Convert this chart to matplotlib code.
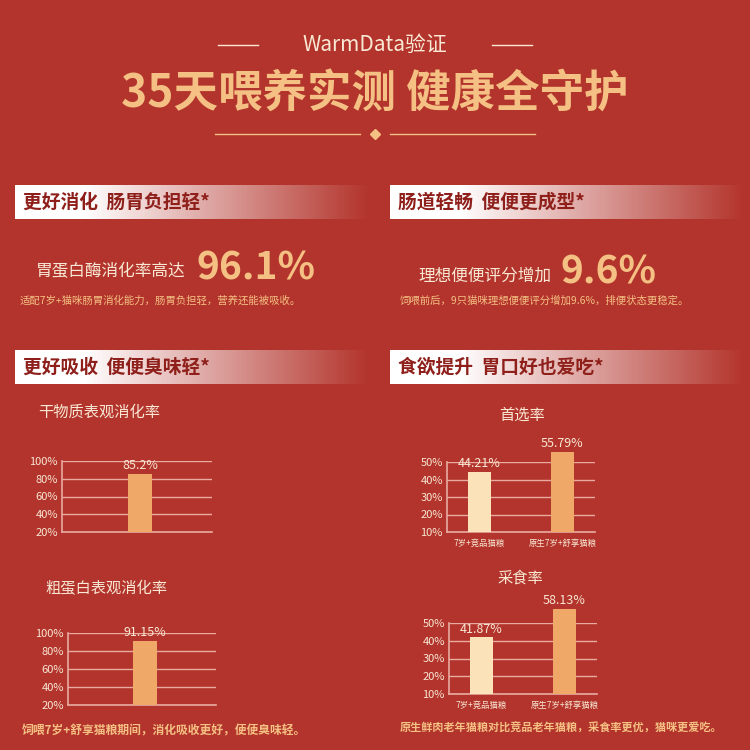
import matplotlib
matplotlib.use("Agg")
import matplotlib.pyplot as plt
import numpy as np

plt.rcParams['font.family'] = ['Noto Sans CJK SC', 'DejaVu Sans']

BG = '#b3342c'
CREAM = '#f8e8d4'
GOLD = '#f4c083'
ORANGE = '#f0a868'
LIGHT = '#fbe2b8'
GRID = '#e9aaa0'
DARK = '#8e1f1a'

left_titles = ['干物质表观消化率', '粗蛋白表观消化率']
left_values = [85.2, 91.15]
left_labels = ['85.2%', '91.15%']
left_ticks = [20, 40, 60, 80, 100]

right_titles = ['首选率', '采食率']
right_cats = ['7岁+竞品猫粮', '原生7岁+舒享猫粮']
pick_values = [44.21, 55.79]
eat_values = [41.87, 58.13]
right_ticks = [10, 20, 30, 40, 50]

headers = ['更好消化  肠胃负担轻*', '肠道轻畅  便便更成型*', '更好吸收  便便臭味轻*', '食欲提升  胃口好也爱吃*']

W = H = 750
fig = plt.figure(figsize=(7.5, 7.5), dpi=100)
fig.patch.set_facecolor(BG)
bg = fig.add_axes([0, 0, 1, 1])
bg.set_xlim(0, W); bg.set_ylim(H, 0); bg.axis('off')

# title
bg.text(375, 45, 'WarmData验证', color=CREAM, fontsize=15, ha='center', va='center')
bg.plot([218, 258], [45, 45], color=CREAM, lw=1)
bg.plot([492, 532], [45, 45], color=CREAM, lw=1)
bg.text(375, 95, '35天喂养实测 健康全守护', color=GOLD, fontsize=32, fontweight='heavy', ha='center', va='center')
bg.plot([215, 360], [134, 134], color=GOLD, lw=1)
bg.plot([390, 535], [134, 134], color=GOLD, lw=1)
bg.plot([375], [134], marker='D', color=GOLD, ms=5)

# headers
grad = np.zeros((1, 256, 4))
grad[..., :3] = 1
grad[0, :, 3] = np.clip(np.linspace(1.25, 0, 256), 0, 1)
for (x0, y0), txt in zip([(15, 185), (390, 185), (15, 350), (390, 350)], headers):
    bg.imshow(grad, extent=[x0, x0 + 355, y0 + 34, y0], aspect='auto', zorder=1)
    bg.text(x0 + 8, y0 + 17, txt, color=DARK, fontsize=13.5, fontweight='bold', va='center', zorder=2)

# stats
bg.text(36, 272, '胃蛋白酶消化率高达', color=CREAM, fontsize=12, va='center')
bg.text(197, 268, '96.1%', color=GOLD, fontsize=28, fontweight='bold', fontstyle='italic', va='center')
bg.text(20, 301, '适配7岁+猫咪肠胃消化能力，肠胃负担轻，营养还能被吸收。', color=GOLD, fontsize=7.5, va='center')
bg.text(418, 276, '理想便便评分增加', color=CREAM, fontsize=12, va='center')
bg.text(560, 272, '9.6%', color=GOLD, fontsize=28, fontweight='bold', fontstyle='italic', va='center')
bg.text(400, 301, '饲喂前后，9只猫咪理想便便评分增加9.6%，排便状态更稳定。', color=GOLD, fontsize=7.5, va='center')

def px_axes(x0, y0, x1, y1):
    return fig.add_axes([x0 / W, 1 - y1 / H, (x1 - x0) / W, (y1 - y0) / H])

def style(ax, ticks):
    ax.set_facecolor('none')
    ax.set_ylim(ticks[0], ticks[-1])
    ax.set_yticks(ticks)
    ax.set_yticklabels([f'{t}%' for t in ticks], color=CREAM, fontsize=8)
    ax.tick_params(length=0, pad=3)
    for s in ['top', 'right']:
        ax.spines[s].set_visible(False)
    for s in ['left', 'bottom']:
        ax.spines[s].set_color(GRID); ax.spines[s].set_linewidth(1.2)
    ax.grid(axis='y', color=GRID, lw=1)
    ax.set_axisbelow(True)

# left charts
for (x0, y0, x1, y1), ty, t, v, lab in zip([(62, 461, 212, 532), (68, 633, 216, 705)],
                                          [412, 589], left_titles, left_values, left_labels):
    bg.text(38 if ty < 500 else 45, ty, t, color=CREAM, fontsize=11, va='center')
    ax = px_axes(x0, y0, x1, y1)
    style(ax, left_ticks)
    ax.set_xlim(0, 1)
    bars = ax.bar([0.52], [v - left_ticks[0]], bottom=left_ticks[0], width=0.16, color=ORANGE, zorder=3)
    for b in bars:
        b.set_clip_on(False)
    ax.text(0.52, v + 2, lab, color=CREAM, fontsize=9, ha='center', va='bottom', clip_on=False, zorder=4)
    ax.set_xticks([])
bg.text(22, 731, '饲喂7岁+舒享猫粮期间，消化吸收更好，便便臭味轻。', color=GOLD, fontsize=8.5, fontweight='bold', va='center')

# right charts
for (x0, y0, x1, y1), ty, t, vals in zip([(447, 462, 595, 532), (449, 623, 597, 694)],
                                        [415, 578], right_titles, [pick_values, eat_values]):
    bg.text(522 if ty < 500 else 520, ty, t, color=CREAM, fontsize=11, ha='center', va='center')
    ax = px_axes(x0, y0, x1, y1)
    style(ax, right_ticks)
    ax.set_xlim(0, 1)
    xs = [0.22, 0.78]
    bars = ax.bar(xs, [v - right_ticks[0] for v in vals], bottom=right_ticks[0], width=0.16,
                  color=[LIGHT, ORANGE], zorder=3)
    for b in bars:
        b.set_clip_on(False)
    for x, v in zip(xs, vals):
        ax.text(x, v + 1, f'{v:.2f}%', color=CREAM, fontsize=9, ha='center', va='bottom', clip_on=False, zorder=4)
    ax.set_xticks(xs)
    ax.set_xticklabels(right_cats, color=CREAM, fontsize=6)
    ax.tick_params(axis='x', pad=5)
bg.text(400, 728, '原生鲜肉老年猫粮对比竞品老年猫粮，采食率更优，猫咪更爱吃。', color=GOLD, fontsize=8, fontweight='bold', va='center')

fig.savefig('out.png', dpi=100, facecolor=BG)
